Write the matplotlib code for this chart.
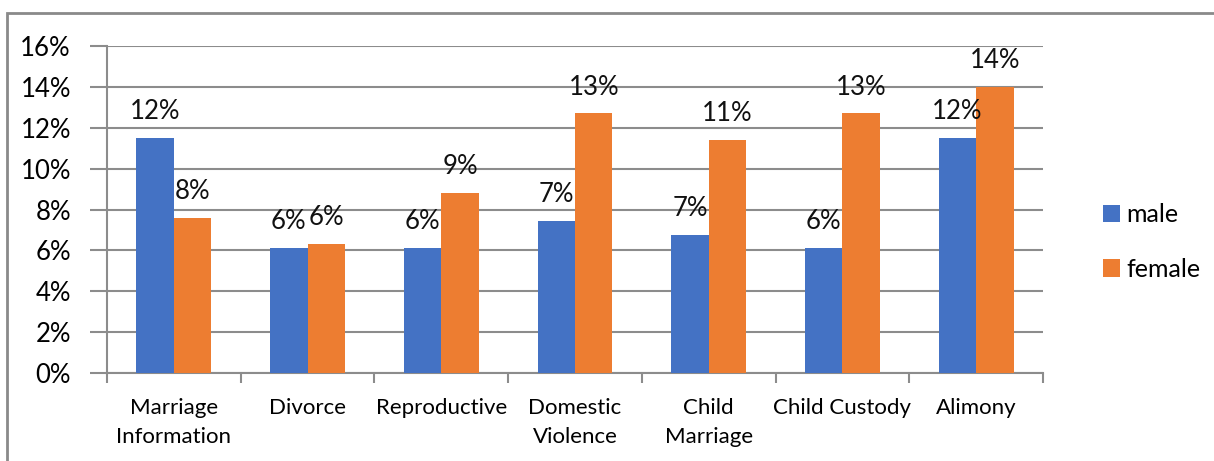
import matplotlib
matplotlib.use('Agg')
import matplotlib.pyplot as plt
from matplotlib.patches import Rectangle
from matplotlib.ticker import FixedLocator, PercentFormatter
import numpy as np

categories = ['Marriage\nInformation', 'Divorce', 'Reproductive', 'Domestic\nViolence',
              'Child\nMarriage', 'Child Custody', 'Alimony']
male = [0.115, 0.061, 0.061, 0.0745, 0.0675, 0.061, 0.115]
female = [0.076, 0.063, 0.088, 0.127, 0.114, 0.127, 0.140]
series_names = ['male', 'female']

BLUE = '#4472C4'
ORANGE = '#ED7D31'
GRID = '#8c8c8c'

plt.rcParams['font.family'] = ['Lato', 'DejaVu Sans']
plt.rcParams['font.size'] = 18.5

fig = plt.figure(figsize=(12.14, 4.61), dpi=100)
ax = fig.add_axes([107 / 1214, 1 - 373 / 461, (1043 - 107) / 1214, (373 - 46) / 461])

x = np.arange(len(categories))
width = 0.28
bars_m = ax.bar(x - width / 2, male, width, color=BLUE, label=series_names[0], zorder=3)
bars_f = ax.bar(x + width / 2, female, width, color=ORANGE, label=series_names[1], zorder=3)

# value labels above each bar
for bars, vals in ((bars_m, male), (bars_f, female)):
    for b, v in zip(bars, vals):
        ax.annotate(f'{v:.0%}', (b.get_x() + b.get_width() / 2, v),
                    xytext=(0, 10), textcoords='offset points',
                    ha='center', va='bottom', fontsize=18.5, color='#111111')

ax.set_ylim(0, 0.16)
ax.set_xlim(-0.5, len(categories) - 0.5)
ax.set_yticks(np.arange(0, 0.161, 0.02))
ax.yaxis.set_major_formatter(PercentFormatter(1.0, decimals=0))
ax.yaxis.grid(True, color=GRID, linewidth=1.5, zorder=0)

ax.set_xticks(x)
ax.set_xticklabels(categories, fontsize=16, linespacing=1.55)
ax.xaxis.set_minor_locator(FixedLocator(np.arange(-0.5, len(categories), 1.0)))
ax.tick_params(axis='x', which='major', length=0, pad=18)
ax.tick_params(axis='x', which='minor', length=7, width=1.5, color=GRID)
ax.tick_params(axis='y', length=12, width=1.5, color=GRID, pad=14, labelsize=18.5)

for side in ('top', 'right'):
    ax.spines[side].set_visible(False)
for side in ('left', 'bottom'):
    ax.spines[side].set_color(GRID)
    ax.spines[side].set_linewidth(1.5)

fig.legend(handles=[bars_m, bars_f], labels=series_names, loc='center left',
           bbox_to_anchor=(1080 / 1214, 1 - 242 / 461), frameon=False,
           fontsize=18, handlelength=0.7, handleheight=0.7,
           handletextpad=0.25, labelspacing=1.25)

# outer frame
fig.patches.append(Rectangle((7 / 1214, -0.05), 1.1, 1 - 13 / 461 + 0.05,
                             transform=fig.transFigure, fill=False,
                             edgecolor='#8a8a8a', linewidth=2))

fig.savefig('out.png', dpi=100)
